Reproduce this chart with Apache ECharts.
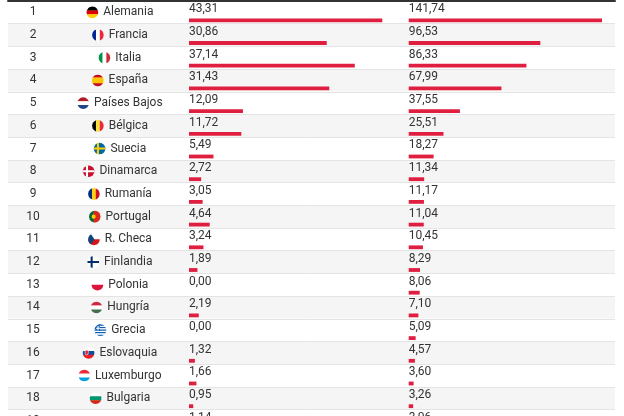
<!DOCTYPE html>
<html>
<head>
<meta charset="utf-8">
<script src="https://cdn.jsdelivr.net/npm/echarts@6/dist/echarts.min.js"></script>
<style>
html, body { margin: 0; padding: 0; background: #fff; }
#chart { width: 624px; height: 416px; }
</style>
</head>
<body>
<div id="chart"></div>
<script>
// datos de la tabla
var ranks = ['1','2','3','4','5','6','7','8','9','10','11','12','13','14','15','16','17','18','19'];
var countries = ['Alemania','Francia','Italia','España','Países Bajos','Bélgica','Suecia','Dinamarca','Rumanía','Portugal','R. Checa','Finlandia','Polonia','Hungría','Grecia','Eslovaquia','Luxemburgo','Bulgaria',''];
var valuesA = [43.31,30.86,37.14,31.43,12.09,11.72,5.49,2.72,3.05,4.64,3.24,1.89,0.00,2.19,0.00,1.32,1.66,0.95,1.14];
var valuesB = [141.74,96.53,86.33,67.99,37.55,25.51,18.27,11.34,11.17,11.04,10.45,8.29,8.06,7.10,5.09,4.57,3.60,3.26,3.06];

var ROW = 22.7;
var VISIBLE = 18;   // filas completas en pantalla
var FONT = '12px Roboto';
var TXT = '#333333';
var RED = '#e01e3f';
var R = 5.8;

var flags = {
    'Alemania':   { dir: 'h', colors: ['#000000', '#dd0000', '#ffce00'] },
    'Francia':    { dir: 'v', colors: ['#002395', '#ffffff', '#ed2939'] },
    'Italia':     { dir: 'v', colors: ['#009246', '#ffffff', '#ce2b37'] },
    'España':     { dir: 'h', colors: ['#c60b1e', '#ffc400', '#c60b1e'], w: [1, 2, 1] },
    'Países Bajos': { dir: 'h', colors: ['#ae1c28', '#ffffff', '#21468b'] },
    'Bélgica':    { dir: 'v', colors: ['#000000', '#fae042', '#ed2939'] },
    'Suecia':     { cross: ['#006aa7', '#fecc00'] },
    'Dinamarca':  { cross: ['#c8102e', '#ffffff'] },
    'Rumanía':    { dir: 'v', colors: ['#002b7f', '#fcd116', '#ce1126'] },
    'Portugal':   { dir: 'v', colors: ['#046a38', '#da291c'], w: [2, 3], dot: '#ffcc00' },
    'R. Checa':   { dir: 'h', colors: ['#ffffff', '#d7141a'], wedge: '#11457e' },
    'Finlandia':  { cross: ['#ffffff', '#002f6c'] },
    'Polonia':    { dir: 'h', colors: ['#ffffff', '#dc143c'] },
    'Hungría':    { dir: 'h', colors: ['#cd2a3e', '#ffffff', '#436f4d'] },
    'Grecia':     { dir: 'h', colors: ['#0d5eaf','#ffffff','#0d5eaf','#ffffff','#0d5eaf','#ffffff','#0d5eaf','#ffffff','#0d5eaf'], canton: '#0d5eaf' },
    'Eslovaquia': { dir: 'h', colors: ['#ffffff', '#0b4ea2', '#ee1c25'], shield: '#ee1c25' },
    'Luxemburgo': { dir: 'h', colors: ['#ed2939', '#ffffff', '#00a1de'] },
    'Bulgaria':   { dir: 'h', colors: ['#ffffff', '#00966e', '#d62612'] }
};

var measureCtx = document.createElement('canvas').getContext('2d');
measureCtx.font = FONT;
function textWidth(s) { return measureCtx.measureText(s).width; }

function fmt(v) { return v.toFixed(2).replace('.', ','); }

// franja de un círculo entre a y b (offsets desde el centro)
function band(cx, cy, r, a, b, dir, color) {
    var pts = [], n = 8, i, t, s;
    for (i = 0; i <= n; i++) {
        t = a + (b - a) * i / n;
        s = Math.sqrt(Math.max(0, r * r - t * t));
        pts.push(dir === 'h' ? [cx + s, cy + t] : [cx + t, cy + s]);
    }
    for (i = n; i >= 0; i--) {
        t = a + (b - a) * i / n;
        s = Math.sqrt(Math.max(0, r * r - t * t));
        pts.push(dir === 'h' ? [cx - s, cy + t] : [cx + t, cy - s]);
    }
    return { type: 'polygon', shape: { points: pts }, style: { fill: color } };
}

function arcPoly(cx, cy, r, a0, a1, extra, color) {
    var pts = extra.slice();
    for (var i = 0; i <= 8; i++) {
        var a = (a0 + (a1 - a0) * i / 8) * Math.PI / 180;
        pts.push([cx + r * Math.cos(a), cy + r * Math.sin(a)]);
    }
    return { type: 'polygon', shape: { points: pts }, style: { fill: color } };
}

function flagShapes(name, cx, cy, r) {
    var f = flags[name];
    var out = [];
    if (!f) return out;
    if (f.cross) {
        out.push({ type: 'circle', shape: { cx: cx, cy: cy, r: r }, style: { fill: f.cross[0] } });
        var h = r * 0.18, vx = -r * 0.28;
        out.push(band(cx, cy, r, -h, h, 'h', f.cross[1]));
        out.push(band(cx, cy, r, vx - h, vx + h, 'v', f.cross[1]));
        return out;
    }
    var w = f.w || f.colors.map(function () { return 1; });
    var tot = w.reduce(function (a, b) { return a + b; }, 0);
    var pos = -r;
    f.colors.forEach(function (c, i) {
        var next = pos + 2 * r * w[i] / tot;
        out.push(band(cx, cy, r, pos, next + (i < f.colors.length - 1 ? 0.3 : 0), f.dir, c));
        pos = next;
    });
    if (f.dot) {
        out.push({ type: 'circle', shape: { cx: cx - r * 0.2, cy: cy, r: r * 0.35 }, style: { fill: f.dot } });
    }
    if (f.wedge) {
        out.push(arcPoly(cx, cy, r, 120, 240, [[cx + 0.5, cy]], f.wedge));
    }
    if (f.canton) {
        out.push(arcPoly(cx, cy, r, 190, 262, [[cx - r * 0.05, cy + r * 0.1]], f.canton));
        out.push({ type: 'rect', shape: { x: cx - r * 0.75, y: cy - r * 0.42, width: r * 0.7, height: r * 0.18 }, style: { fill: '#fff' } });
        out.push({ type: 'rect', shape: { x: cx - r * 0.49, y: cy - r * 0.75, width: r * 0.18, height: r * 0.75 }, style: { fill: '#fff' } });
    }
    if (f.shield) {
        out.push({ type: 'rect', shape: { x: cx - r * 0.6, y: cy - r * 0.45, width: r * 0.55, height: r * 0.8, r: [0, 0, 2, 2] }, style: { fill: f.shield, stroke: '#fff', lineWidth: 0.6 } });
    }
    return out;
}

function renderLabels(params, api) {
    var i = params.dataIndex;
    var p = api.coord([0, i]);
    var cs = params.coordSys;
    var cy = p[1];
    var children = [{
        type: 'text',
        style: { text: ranks[i], x: cs.x + 25, y: cy, align: 'center', verticalAlign: 'middle', fill: TXT, font: FONT }
    }];
    var name = countries[i];
    if (name) {
        var total = 2 * R + 5 + textWidth(name);
        var left = cs.x + 112 - total / 2;
        children = children.concat(flagShapes(name, left + R, cy, R));
        children.push({
            type: 'text',
            style: { text: name, x: left + 2 * R + 5, y: cy, align: 'left', verticalAlign: 'middle', fill: TXT, font: FONT }
        });
    }
    return { type: 'group', children: children };
}

function renderBar(params, api) {
    var i = params.dataIndex;
    var v = api.value(0);
    var start = api.coord([0, i]);
    var end = api.coord([v, i]);
    var bandH = api.size([0, 1])[1];
    var top = start[1] - bandH / 2;
    return {
        type: 'group',
        children: [
            { type: 'rect', shape: { x: start[0], y: top + 17.4, width: end[0] - start[0], height: 3.8 }, style: { fill: RED } },
            { type: 'text', style: { text: fmt(v), x: start[0], y: top + 8.2, align: 'left', verticalAlign: 'middle', fill: TXT, font: FONT } }
        ]
    };
}

var gridH = ROW * VISIBLE;

function hiddenY(idx) {
    return {
        type: 'category', gridIndex: idx, data: ranks, inverse: true, max: VISIBLE - 1,
        axisLine: { show: false }, axisTick: { show: false }, axisLabel: { show: false },
        splitLine: { show: false }
    };
}
function hiddenX(idx, max) {
    return {
        type: 'value', gridIndex: idx, min: 0, max: max,
        axisLine: { show: false }, axisTick: { show: false }, axisLabel: { show: false },
        splitLine: { show: false }
    };
}

var myChart = echarts.init(document.getElementById('chart'));
myChart.setOption({
    animation: false,
    grid: [
        { left: 8, right: 9, top: 1, height: gridH },
        { left: 189, width: 193.3, top: 1, height: gridH },
        { left: 408.7, width: 193.3, top: 1, height: gridH }
    ],
    xAxis: [
        {
            type: 'value', gridIndex: 0, min: 0, max: 1, position: 'top',
            axisLine: { show: true, onZero: false, lineStyle: { color: '#333333', width: 2 } },
            axisTick: { show: false }, axisLabel: { show: false }, splitLine: { show: false }
        },
        hiddenX(1, valuesA[0]),
        hiddenX(2, valuesB[0])
    ],
    yAxis: [
        {
            type: 'category', gridIndex: 0, data: ranks, inverse: true, max: VISIBLE - 1,
            axisLine: { show: false }, axisTick: { show: false }, axisLabel: { show: false },
            splitLine: { show: true, lineStyle: { color: '#e4e4e4', width: 1 } },
            splitArea: { show: true, areaStyle: { color: ['#ffffff', '#f5f5f5'] } }
        },
        hiddenY(1),
        hiddenY(2)
    ],
    series: [
        {
            type: 'custom', xAxisIndex: 0, yAxisIndex: 0,
            renderItem: renderLabels,
            data: ranks.map(function (r, i) { return [0, i]; })
        },
        {
            type: 'custom', xAxisIndex: 1, yAxisIndex: 1,
            renderItem: renderBar,
            data: valuesA.map(function (v, i) { return [v, i]; })
        },
        {
            type: 'custom', xAxisIndex: 2, yAxisIndex: 2,
            renderItem: renderBar,
            data: valuesB.map(function (v, i) { return [v, i]; })
        }
    ]
});
</script>
</body>
</html>
